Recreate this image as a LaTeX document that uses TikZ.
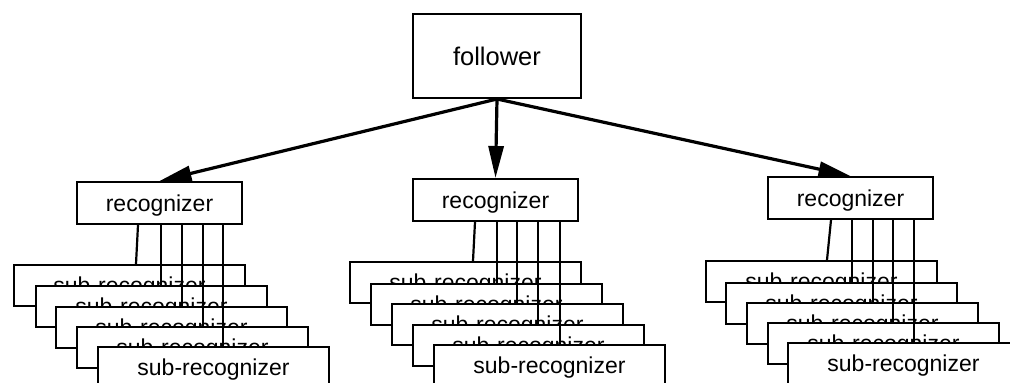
\documentclass[tikz,border=0pt]{standalone}
\usepackage{fontspec}
\setmainfont{Liberation Sans}
\usetikzlibrary{arrows.meta}
\begin{document}
\begin{tikzpicture}[x=1pt,y=-1pt,
  box/.style={draw,fill=white,line width=2pt,inner sep=0pt,anchor=north west,
    text depth=0pt,font=\fontsize{23}{27}\selectfont},
  subbox/.style={box,minimum width=231pt,minimum height=41pt},
  recbox/.style={box,minimum width=165pt,minimum height=42pt},
  link/.style={line width=2.2pt},
  feed/.style={line width=3.2pt,-{Triangle[length=32pt,width=15pt]}}]
\useasboundingbox (0,0) rectangle (1010,383);
\clip (0,0) rectangle (1010,383);

% top-level follower
\node[box,minimum width=168pt,minimum height=84pt,font=\fontsize{25.5}{30}\selectfont] (fol) at (412,13) {follower};

% recognizers
\node[recbox] (rL) at (76,181) {recognizer};
\node[recbox] (rM) at (412,178) {recognizer};
\node[recbox] (rR) at (767,176) {recognizer};

% stacked sub-recognizers, left group
\node[subbox] (sL1) at (13,264) {sub-recognizer};
\node[subbox] (sL2) at (35,285) {sub-recognizer};
\node[subbox] (sL3) at (55,306) {sub-recognizer};
\node[subbox] (sL4) at (76,326) {sub-recognizer};
\node[subbox] (sL5) at (97,346) {sub-recognizer};

% middle group
\node[subbox] (sM1) at (349,261) {sub-recognizer};
\node[subbox] (sM2) at (370,283) {sub-recognizer};
\node[subbox] (sM3) at (391,303) {sub-recognizer};
\node[subbox] (sM4) at (412,324) {sub-recognizer};
\node[subbox] (sM5) at (433,344) {sub-recognizer};

% right group
\node[subbox] (sR1) at (705,260) {sub-recognizer};
\node[subbox] (sR2) at (725,282) {sub-recognizer};
\node[subbox] (sR3) at (746,302) {sub-recognizer};
\node[subbox] (sR4) at (767,322) {sub-recognizer};
\node[subbox] (sR5) at (787,342) {sub-recognizer};

% links from each recognizer down to its sub-recognizers
\draw[link] (rL.south -| 138,0) -- (sL1.north -| 136,0);
\draw[link] (rL.south -| 161,0) -- (sL2.north -| 161,0);
\draw[link] (rL.south -| 182,0) -- (sL3.north -| 182,0);
\draw[link] (rL.south -| 203,0) -- (sL4.north -| 203,0);
\draw[link] (rL.south -| 223,0) -- (sL5.north -| 223,0);

\draw[link] (rM.south -| 475,0) -- (sM1.north -| 473,0);
\draw[link] (rM.south -| 497,0) -- (sM2.north -| 497,0);
\draw[link] (rM.south -| 517,0) -- (sM3.north -| 517,0);
\draw[link] (rM.south -| 538,0) -- (sM4.north -| 538,0);
\draw[link] (rM.south -| 560,0) -- (sM5.north -| 560,0);

\draw[link] (rR.south -| 831,0) -- (sR1.north -| 827,0);
\draw[link] (rR.south -| 852,0) -- (sR2.north -| 852,0);
\draw[link] (rR.south -| 873,0) -- (sR3.north -| 873,0);
\draw[link] (rR.south -| 893,0) -- (sR4.north -| 893,0);
\draw[link] (rR.south -| 914,0) -- (sR5.north -| 914,0);

% follower feeds the recognizers
\draw[feed] (fol.south) -- (rL.north);
\draw[feed] (fol.south) -- (rM.north);
\draw[feed] (fol.south) -- (rR.north);
\end{tikzpicture}
\end{document}
